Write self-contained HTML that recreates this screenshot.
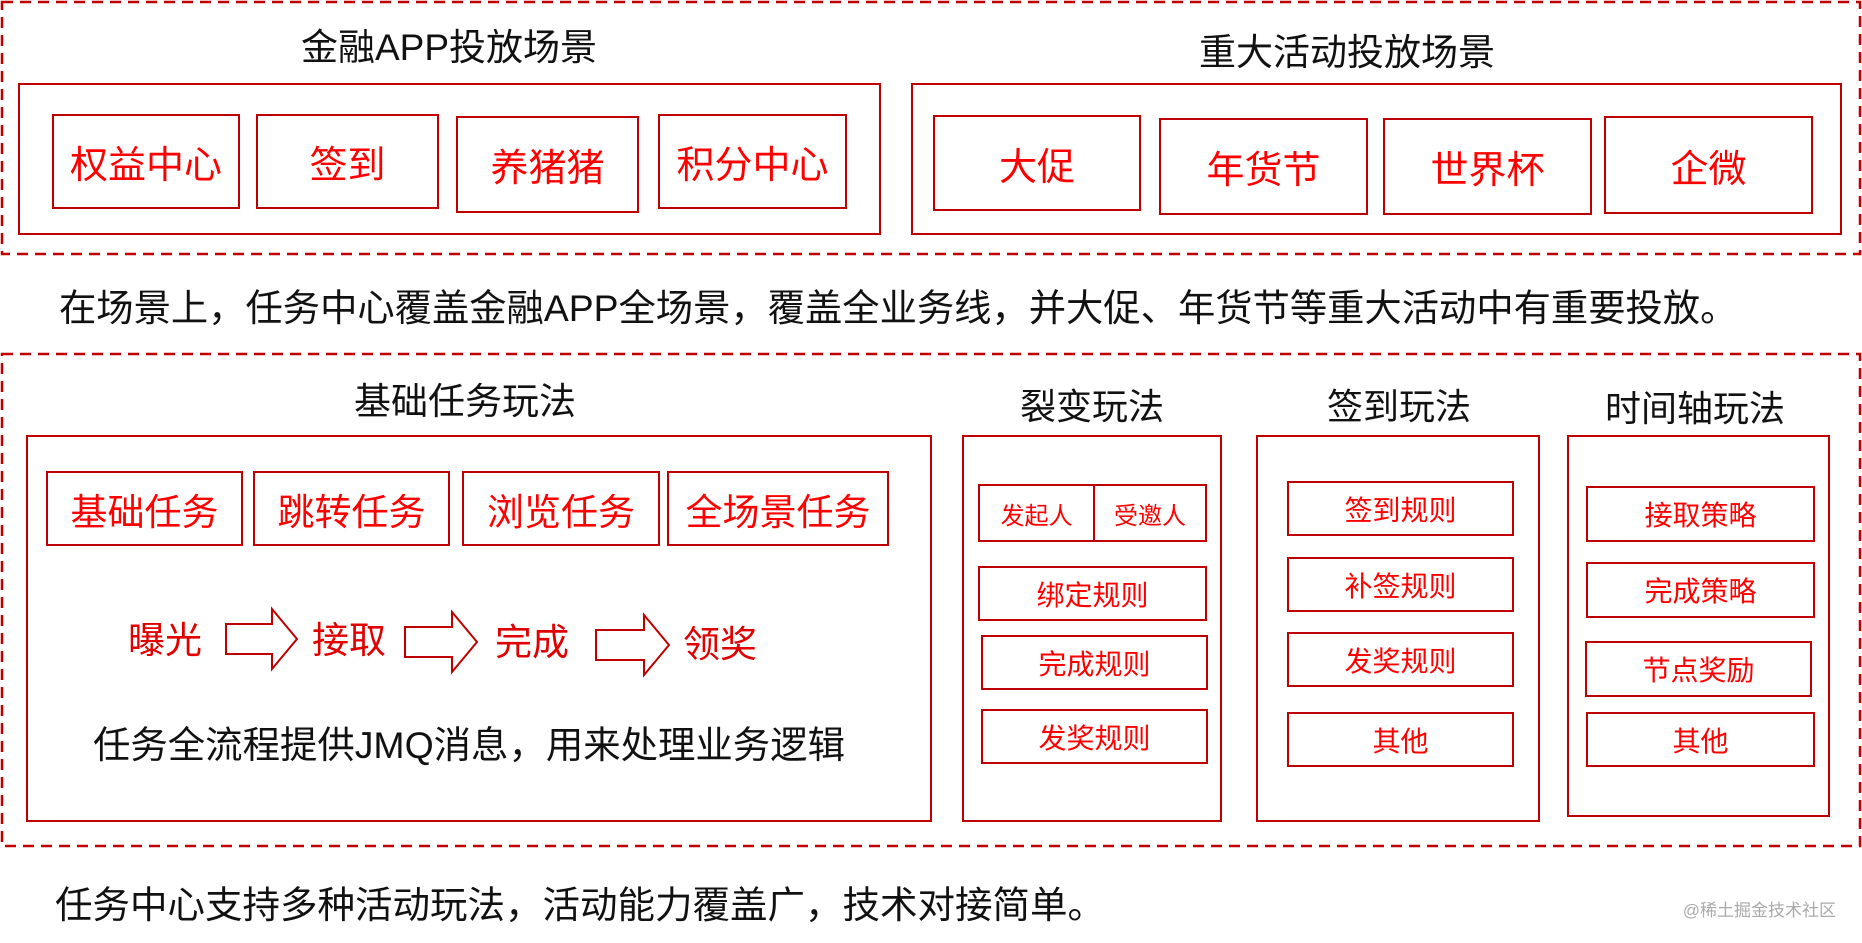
<!DOCTYPE html>
<html><head><meta charset="utf-8"><style>
*{margin:0;padding:0;box-sizing:border-box}
body{width:1862px;height:943px;background:#fff;position:relative;overflow:hidden;font-family:"Liberation Sans","Noto Sans CJK SC",sans-serif}
.a{position:absolute}
.bx{position:absolute;border:2px solid #c00000;display:flex;align-items:center;justify-content:center;color:#f00;white-space:nowrap}
.t{position:absolute;transform:translate(-50%,-50%);white-space:nowrap;color:#111}
.r{color:#e00000}
</style></head><body>
<svg class="a" style="left:0;top:0" width="1862" height="943">
<g fill="none" stroke="#c00000" stroke-width="2.5" stroke-dasharray="11,7">
<rect x="2" y="2" width="1858" height="252"/>
<rect x="2" y="354" width="1858" height="492"/>
</g>
<g fill="none" stroke="#c00000" stroke-width="2">
<polygon points="226,624 272,624 272,609 297,639 272,669 272,654 226,654"/>
<polygon points="405,627 452,627 452,612 477,642 452,672 452,657 405,657"/>
<polygon points="596,630 644,630 644,615 669,645 644,675 644,660 596,660"/>
</g></svg>
<div class="t" style="left:449px;top:44px;font-size:37px">金融APP投放场景</div>
<div class="t" style="left:1347px;top:49px;font-size:37px">重大活动投放场景</div>
<div class="bx" style="left:18px;top:83px;width:863px;height:152px"></div>
<div class="bx" style="left:52px;top:114px;width:188px;height:95px;font-size:38px">权益中心</div>
<div class="bx" style="left:256px;top:114px;width:183px;height:95px;font-size:38px">签到</div>
<div class="bx" style="left:456px;top:116px;width:183px;height:97px;font-size:38px">养猪猪</div>
<div class="bx" style="left:658px;top:114px;width:189px;height:95px;font-size:38px">积分中心</div>
<div class="bx" style="left:911px;top:83px;width:931px;height:152px"></div>
<div class="bx" style="left:933px;top:115px;width:208px;height:96px;font-size:38px">大促</div>
<div class="bx" style="left:1159px;top:118px;width:209px;height:97px;font-size:38px">年货节</div>
<div class="bx" style="left:1383px;top:118px;width:209px;height:97px;font-size:38px">世界杯</div>
<div class="bx" style="left:1604px;top:116px;width:209px;height:98px;font-size:38px">企微</div>
<div class="a" style="left:59px;top:278px;font-size:37.3px;white-space:nowrap;color:#111">在场景上，任务中心覆盖金融APP全场景，覆盖全业务线，并大促、年货节等重大活动中有重要投放。</div>

<div class="t" style="left:465px;top:398px;font-size:37px">基础任务玩法</div>
<div class="bx" style="left:26px;top:435px;width:906px;height:387px"></div>
<div class="bx" style="left:46px;top:471px;width:197px;height:75px;font-size:37px">基础任务</div>
<div class="bx" style="left:253px;top:471px;width:197px;height:75px;font-size:37px">跳转任务</div>
<div class="bx" style="left:462px;top:471px;width:198px;height:75px;font-size:37px">浏览任务</div>
<div class="bx" style="left:667px;top:471px;width:222px;height:75px;font-size:37px">全场景任务</div>
<div class="t r" style="left:165px;top:637px;font-size:37px">曝光</div>
<div class="t r" style="left:349px;top:637px;font-size:37px">接取</div>
<div class="t r" style="left:532px;top:639px;font-size:37px">完成</div>
<div class="t r" style="left:720px;top:641px;font-size:37px">领奖</div>
<div class="a" style="left:93px;top:715px;font-size:37.4px;white-space:nowrap;color:#111">任务全流程提供JMQ消息，用来处理业务逻辑</div>

<div class="t" style="left:1092px;top:404px;font-size:36px">裂变玩法</div>
<div class="bx" style="left:962px;top:435px;width:260px;height:387px"></div>
<div class="bx" style="left:978px;top:484px;width:117px;height:58px;font-size:24px">发起人</div>
<div class="bx" style="left:1093px;top:484px;width:114px;height:58px;font-size:24px">受邀人</div>
<div class="bx" style="left:978px;top:566px;width:229px;height:55px;font-size:28px">绑定规则</div>
<div class="bx" style="left:981px;top:635px;width:227px;height:55px;font-size:28px">完成规则</div>
<div class="bx" style="left:981px;top:709px;width:227px;height:55px;font-size:28px">发奖规则</div>

<div class="t" style="left:1399px;top:404px;font-size:36px">签到玩法</div>
<div class="bx" style="left:1256px;top:435px;width:284px;height:387px"></div>
<div class="bx" style="left:1287px;top:481px;width:227px;height:55px;font-size:28px">签到规则</div>
<div class="bx" style="left:1287px;top:557px;width:227px;height:55px;font-size:28px">补签规则</div>
<div class="bx" style="left:1287px;top:632px;width:227px;height:55px;font-size:28px">发奖规则</div>
<div class="bx" style="left:1287px;top:712px;width:227px;height:55px;font-size:28px">其他</div>

<div class="t" style="left:1695px;top:406px;font-size:36px">时间轴玩法</div>
<div class="bx" style="left:1567px;top:435px;width:263px;height:382px"></div>
<div class="bx" style="left:1586px;top:486px;width:229px;height:56px;font-size:28px">接取策略</div>
<div class="bx" style="left:1586px;top:562px;width:229px;height:56px;font-size:28px">完成策略</div>
<div class="bx" style="left:1585px;top:641px;width:227px;height:56px;font-size:28px">节点奖励</div>
<div class="bx" style="left:1586px;top:712px;width:229px;height:55px;font-size:28px">其他</div>

<div class="a" style="left:55px;top:874px;font-size:37.5px;white-space:nowrap;color:#111">任务中心支持多种活动玩法，活动能力覆盖广，技术对接简单。</div>
<div class="a" style="right:26px;top:896px;font-size:17px;white-space:nowrap;color:#aaa">@稀土掘金技术社区</div>
</body></html>
